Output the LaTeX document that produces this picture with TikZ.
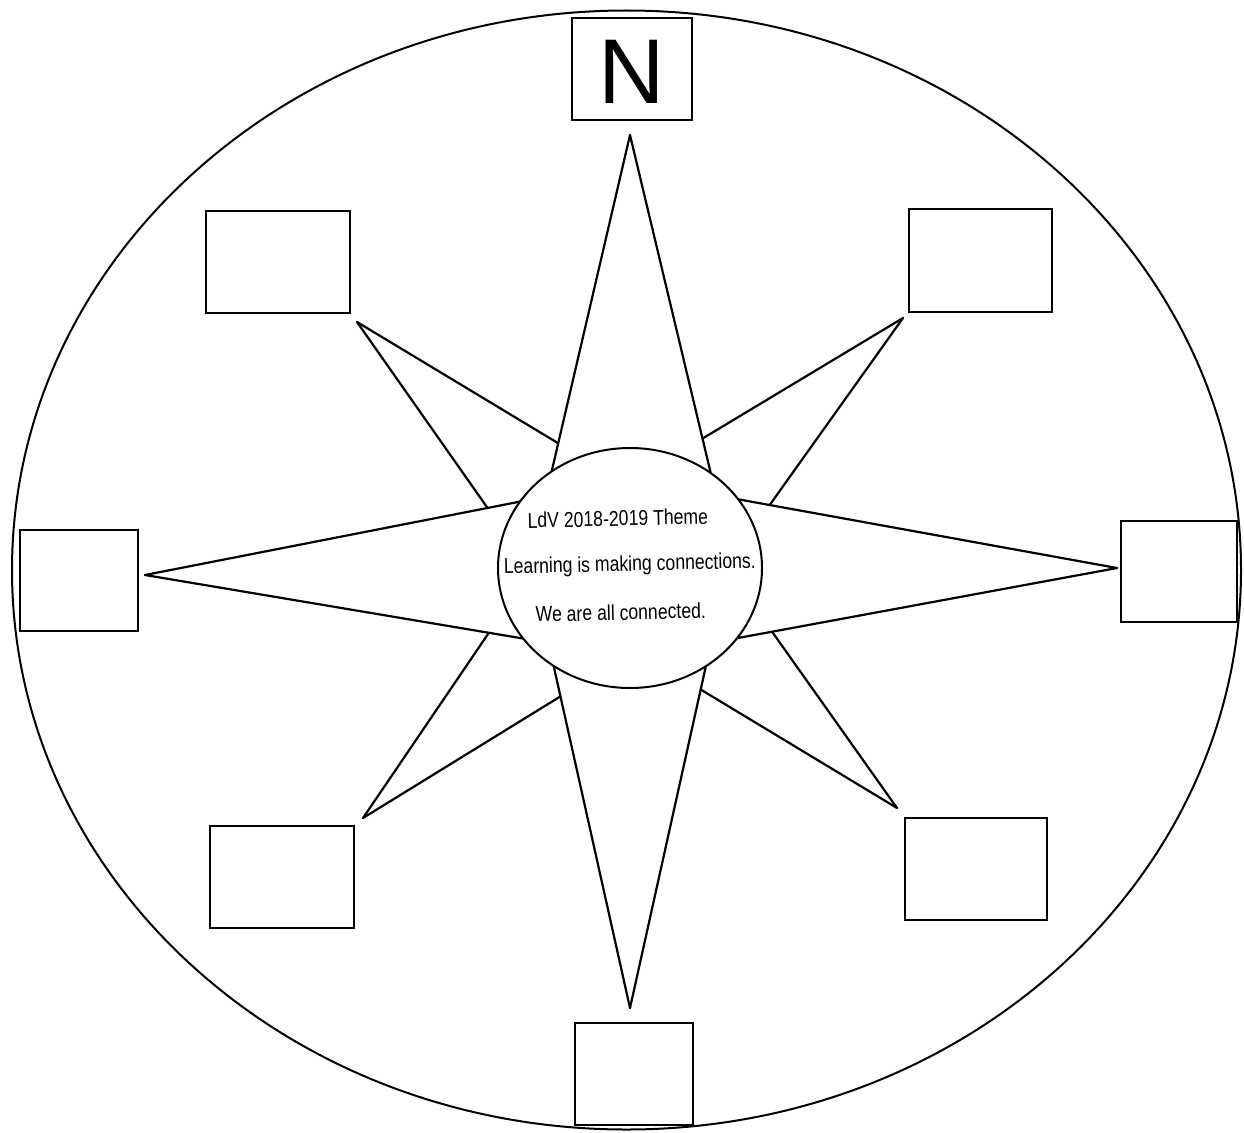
\documentclass[tikz,border=0pt]{standalone}
\usepackage{fontspec}
\usetikzlibrary{calc}
\setmainfont{Liberation Sans}
\newfontfamily\narrowsans[FakeStretch=0.82]{Liberation Sans}
\begin{document}
\begin{tikzpicture}[x=1pt,y=-1pt,
  outline/.style={draw=black,line width=2pt},
  starline/.style={draw=black,line width=2.2pt,line cap=round},
  blankbox/.style={draw=black,fill=white,line width=2.4pt},
  themetext/.style={font=\narrowsans\fontsize{21.5}{24}\selectfont,anchor=base,inner sep=0pt,rotate=1.3}]
\useasboundingbox[fill=white] (0,0) rectangle (1244,1132);

% outer ellipse
\draw[outline] (626.5,570) ellipse [x radius=614.5, y radius=559.5];

% boxes
\draw[blankbox] (572,18) rectangle (692,120);
\node[font=\fontsize{92}{92}\selectfont,anchor=base,inner sep=0pt] (nlabel) at (632,103) {N};
\draw[blankbox] (206,211) rectangle (350,313);
\draw[blankbox] (909,209) rectangle (1052,312);
\draw[blankbox] (20,530) rectangle (138,631);
\draw[blankbox] (1121,521) rectangle (1237,622);
\draw[blankbox] (210,826) rectangle (354,928);
\draw[blankbox] (905,818) rectangle (1047,920);
\draw[blankbox] (575,1023) rectangle (693,1125);

% main star points
\coordinate (Ntip) at (630,135);
\coordinate (Nl) at (552,470);
\coordinate (Nr) at (710,470);
\coordinate (Etip) at (1117,568);
\coordinate (Eu) at (742,500);
\coordinate (Ed) at (738,638);
\coordinate (Stip) at (630,1008);
\coordinate (Sl) at (555,672);
\coordinate (Sr) at (705,670);
\coordinate (Wtip) at (145,575);
\coordinate (Wu) at (518,502);
\coordinate (Wd) at (520,638);

\draw[starline] (Ntip) -- ($(Ntip)!1.1!(Nl)$);
\draw[starline] (Ntip) -- ($(Ntip)!1.1!(Nr)$);
\draw[starline] (Etip) -- ($(Etip)!1.1!(Eu)$);
\draw[starline] (Etip) -- ($(Etip)!1.1!(Ed)$);
\draw[starline] (Stip) -- ($(Stip)!1.1!(Sl)$);
\draw[starline] (Stip) -- ($(Stip)!1.1!(Sr)$);
\draw[starline] (Wtip) -- ($(Wtip)!1.1!(Wu)$);
\draw[starline] (Wtip) -- ($(Wtip)!1.1!(Wd)$);

% diagonal points
\coordinate (NWtip) at (357,322);
\coordinate (NEtip) at (903,318);
\coordinate (SEtip) at (897,808);
\coordinate (SWtip) at (363,818);
\draw[starline] (NWtip) -- ($(Ntip)!(557,443)!(Nl)$);
\draw[starline] (NWtip) -- ($(Wtip)!(487,505)!(Wu)$);
\draw[starline] (NEtip) -- ($(Ntip)!(705,438)!(Nr)$);
\draw[starline] (NEtip) -- ($(Etip)!(770,503)!(Eu)$);
\draw[starline] (SEtip) -- ($(Etip)!(773,637)!(Ed)$);
\draw[starline] (SEtip) -- ($(Stip)!(703,690)!(Sr)$);
\draw[starline] (SWtip) -- ($(Wtip)!(488,638)!(Wd)$);
\draw[starline] (SWtip) -- ($(Stip)!(553,698)!(Sl)$);

% centre circle
\draw[outline,fill=white] (630,568) ellipse [x radius=132, y radius=120];

\node[themetext] (t1) at (618,526) {LdV 2018-2019 Theme};
\node[themetext] (t2) at (630,571) {Learning is making connections.};
\node[themetext] (t3) at (621,620) {We are all connected.};
\end{tikzpicture}
\end{document}
